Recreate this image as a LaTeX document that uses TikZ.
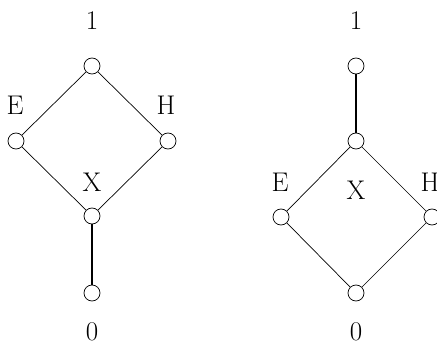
\documentclass[tikz,border=0pt]{standalone}
\begin{document}
\begin{tikzpicture}[x=1pt,y=-1pt,
  vtx/.style={circle,draw,line width=0.7pt,minimum size=16pt,inner sep=0pt,fill=white},
  lbl/.style={font=\fontsize{27}{32}\selectfont,inner sep=0pt},
  thinedge/.style={line width=0.7pt},
  thickedge/.style={line width=1.6pt}]
\clip (0,0) rectangle (437,345);
\useasboundingbox (0,0) rectangle (437,345);
% left lattice
\node[vtx] (a1) at (92,66) {};
\node[vtx] (aE) at (16,141) {};
\node[vtx] (aH) at (168,141) {};
\node[vtx] (aX) at (92,216) {};
\node[vtx] (a0) at (92,293) {};
\node[lbl] (la1) at (92,21) {1};
\node[lbl] (laE) at (15,105) {E};
\node[lbl] (laH) at (166,105) {H};
\node[lbl] (laX) at (92,182) {X};
\node[lbl] (la0) at (92,332) {0};
\draw[thinedge] (a1) -- (aE);
\draw[thinedge] (a1) -- (aH);
\draw[thinedge] (aE) -- (aX);
\draw[thinedge] (aH) -- (aX);
\draw[thickedge] (aX) -- (a0);
% right lattice
\node[vtx] (b1) at (356,66) {};
\node[vtx] (bX) at (356,141) {};
\node[vtx] (bE) at (281,217) {};
\node[vtx] (bH) at (432,217) {};
\node[vtx] (b0) at (356,293) {};
\node[lbl] (lb1) at (356,21) {1};
\node[lbl] (lbE) at (280,182) {E};
\node[lbl] (lbH) at (430,182) {H};
\node[lbl] (lbX) at (356,190) {X};
\node[lbl] (lb0) at (356,332) {0};
\draw[thickedge] (b1) -- (bX);
\draw[thinedge] (bX) -- (bE);
\draw[thinedge] (bX) -- (bH);
\draw[thinedge] (bE) -- (b0);
\draw[thinedge] (bH) -- (b0);
\end{tikzpicture}
\end{document}
